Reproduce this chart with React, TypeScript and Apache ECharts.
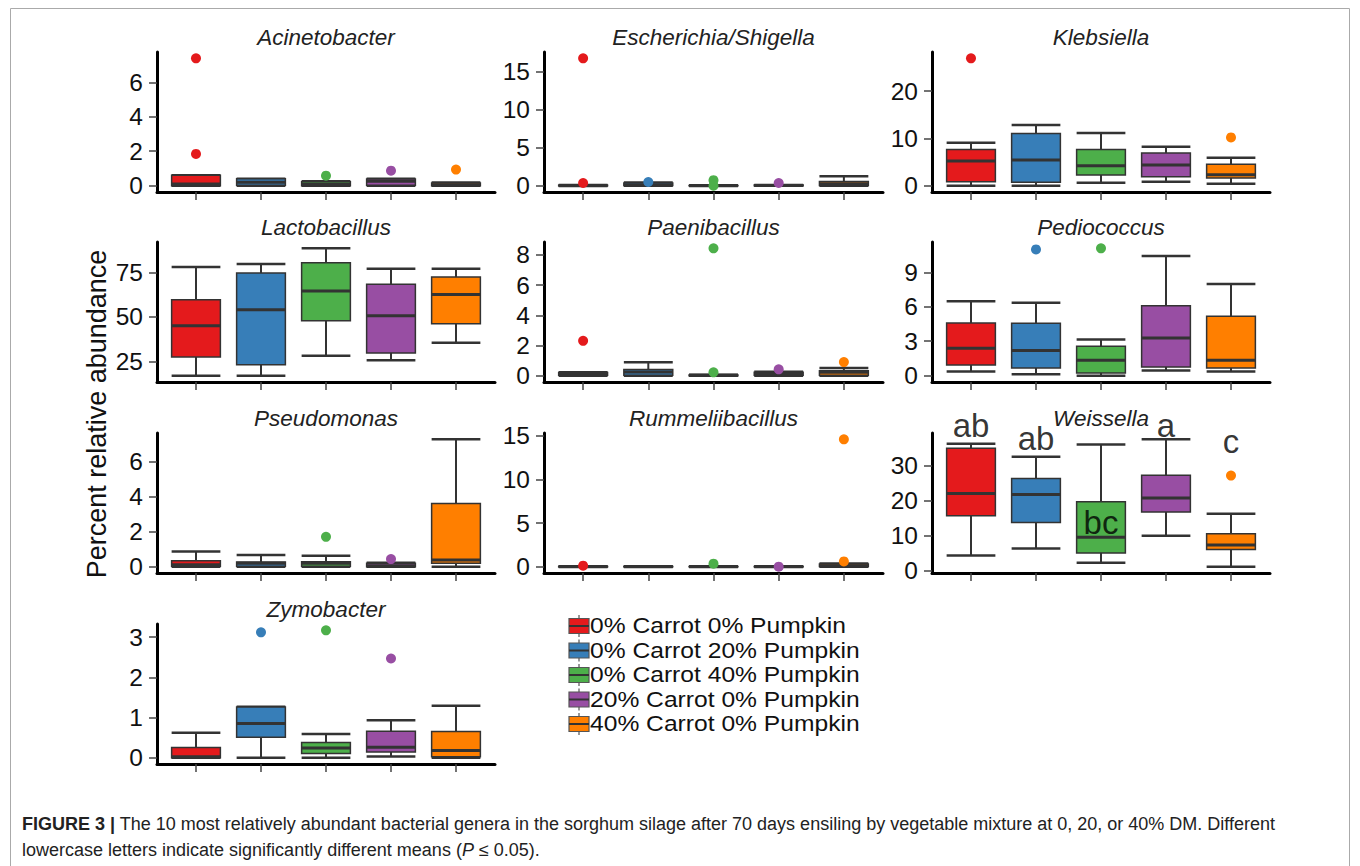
import React, { useEffect, useRef } from 'react';
import * as echarts from 'echarts';

const GROUPS = [
  '0% Carrot 0% Pumpkin',
  '0% Carrot 20% Pumpkin',
  '0% Carrot 40% Pumpkin',
  '20% Carrot 0% Pumpkin',
  '40% Carrot 0% Pumpkin',
];
const COLORS = ['#E41A1C', '#377EB8', '#4DAF4A', '#984EA3', '#FF7F00'];

// Boxes: [min, q1, median, q3, max] for each group in GROUPS order
const acinetobacterBoxes = [[0, 0, 0.1, 0.6, 0.6], [0, 0.02, 0.2, 0.4, 0.4], [0, 0, 0.08, 0.22, 0.25], [0, 0.02, 0.25, 0.38, 0.4], [0, 0, 0.05, 0.15, 0.18]];
const acinetobacterOutliers = [[0, 7.39], [0, 1.84], [2, 0.58], [3, 0.87], [4, 0.93]];
const acinetobacterTicks = [0, 2, 4, 6];

const escherichiaBoxes = [[0, 0, 0, 0.05, 0.1], [0, 0.02, 0.1, 0.35, 0.4], [0, 0, 0, 0.02, 0.05], [0, 0, 0.02, 0.08, 0.1], [0, 0.02, 0.26, 0.55, 1.23]];
const escherichiaOutliers = [[0, 16.75], [0, 0.35], [1, 0.48], [2, 0.72], [2, 0.0], [3, 0.35]];
const escherichiaTicks = [0, 5, 10, 15];

const klebsiellaBoxes = [[0, 0.84, 5.19, 7.65, 9.05], [0, 0.7, 5.4, 11.0, 12.8], [0.63, 2.25, 4.2, 7.65, 11.1], [0.84, 1.9, 4.35, 6.9, 8.2], [0.42, 1.6, 2.3, 4.5, 5.9]];
const klebsiellaOutliers = [[0, 26.9], [4, 10.2]];
const klebsiellaTicks = [0, 10, 20];

const lactobacillusBoxes = [[17.0, 27.4, 45.0, 59.7, 78.0], [17.0, 23.1, 54.0, 74.6, 79.7], [28.2, 47.8, 64.5, 80.4, 88.5], [25.7, 29.7, 50.7, 68.4, 77.1], [35.5, 46.2, 62.6, 72.4, 77.1]];
const lactobacillusOutliers: number[][] = [];
const lactobacillusTicks = [25, 50, 75];

const paenibacillusBoxes = [[0, 0.02, 0.08, 0.2, 0.22], [0, 0.02, 0.24, 0.4, 0.88], [0, 0, 0.02, 0.05, 0.06], [0, 0.02, 0.1, 0.22, 0.26], [0, 0.02, 0.22, 0.33, 0.51]];
const paenibacillusOutliers = [[0, 2.31], [2, 8.44], [2, 0.22], [3, 0.42], [4, 0.9]];
const paenibacillusTicks = [0, 2, 4, 6, 8];

const pediococcusBoxes = [[0.35, 0.93, 2.38, 4.59, 6.48], [0.12, 0.67, 2.18, 4.56, 6.34], [0.0, 0.23, 1.34, 2.56, 3.14], [0.44, 0.76, 3.28, 6.08, 10.41], [0.35, 0.67, 1.34, 5.17, 7.97]];
const pediococcusOutliers = [[1, 10.99], [2, 11.08]];
const pediococcusTicks = [0, 3, 6, 9];

const pseudomonasBoxes = [[0, 0.02, 0.11, 0.34, 0.87], [0, 0.02, 0.2, 0.26, 0.66], [0, 0.02, 0.2, 0.28, 0.62], [0, 0, 0.05, 0.2, 0.22], [0, 0.19, 0.38, 3.6, 7.26]];
const pseudomonasOutliers = [[2, 1.7], [3, 0.43]];
const pseudomonasTicks = [0, 2, 4, 6];

const rummeliibacillusBoxes = [[0, 0, 0, 0.02, 0.03], [0, 0, 0, 0.02, 0.03], [0, 0, 0, 0.02, 0.03], [0, 0, 0, 0.02, 0.03], [0, 0.02, 0.1, 0.3, 0.35]];
const rummeliibacillusOutliers = [[0, 0.11], [2, 0.34], [3, 0.0], [4, 14.6], [4, 0.6]];
const rummeliibacillusTicks = [0, 5, 10, 15];

const weissellaBoxes = [[4.25, 15.6, 22.0, 34.9, 36.2], [6.3, 13.7, 21.7, 26.3, 32.5], [2.2, 5.0, 9.5, 19.6, 36.0], [9.9, 16.7, 20.7, 27.2, 37.45], [1.1, 6.0, 7.3, 10.5, 16.2]];
const weissellaOutliers = [[4, 27.1]];
const weissellaTicks = [0, 10, 20, 30];
const weissellaLetters = ['ab', 'ab', 'bc', 'a', 'c'];
const weissellaLetterY = [41.5, 37.8, 13.8, 41.5, 36.7];

const zymobacterBoxes = [[0, 0, 0.02, 0.25, 0.62], [0, 0.51, 0.85, 1.26, 1.27], [0, 0.1, 0.24, 0.38, 0.59], [0.03, 0.14, 0.26, 0.66, 0.93], [0, 0.02, 0.18, 0.65, 1.29]];
const zymobacterOutliers = [[1, 3.12], [2, 3.17], [3, 2.47]];
const zymobacterTicks = [0, 1, 2, 3];

const PANELS = [
  { name: 'Acinetobacter', boxes: acinetobacterBoxes, outliers: acinetobacterOutliers, ticks: acinetobacterTicks },
  { name: 'Escherichia/Shigella', boxes: escherichiaBoxes, outliers: escherichiaOutliers, ticks: escherichiaTicks },
  { name: 'Klebsiella', boxes: klebsiellaBoxes, outliers: klebsiellaOutliers, ticks: klebsiellaTicks },
  { name: 'Lactobacillus', boxes: lactobacillusBoxes, outliers: lactobacillusOutliers, ticks: lactobacillusTicks },
  { name: 'Paenibacillus', boxes: paenibacillusBoxes, outliers: paenibacillusOutliers, ticks: paenibacillusTicks },
  { name: 'Pediococcus', boxes: pediococcusBoxes, outliers: pediococcusOutliers, ticks: pediococcusTicks },
  { name: 'Pseudomonas', boxes: pseudomonasBoxes, outliers: pseudomonasOutliers, ticks: pseudomonasTicks },
  { name: 'Rummeliibacillus', boxes: rummeliibacillusBoxes, outliers: rummeliibacillusOutliers, ticks: rummeliibacillusTicks },
  { name: 'Weissella', boxes: weissellaBoxes, outliers: weissellaOutliers, ticks: weissellaTicks },
  { name: 'Zymobacter', boxes: zymobacterBoxes, outliers: zymobacterOutliers, ticks: zymobacterTicks },
];

const CAPTION_1 = 'The 10 most relatively abundant bacterial genera in the sorghum silage after 70 days ensiling by vegetable mixture at 0, 20, or 40% DM. Different';
const CAPTION_2 = 'lowercase letters indicate significantly different means (';

// layout
const COL_LEFT = [157, 544, 932];
const COL_WIDTH = [338, 339, 338];
const ROW_TOP = [52, 242, 433, 624];
const ROW_H = 140;
const FONT = '"Liberation Sans", Arial, Helvetica, sans-serif';

function yRange(p: any) {
  const vals: number[] = [];
  p.boxes.forEach((b: number[]) => vals.push(...b));
  p.outliers.forEach((o: number[]) => vals.push(o[1]));
  const lo = Math.min(...vals);
  const hi = Math.max(...vals);
  const pad = (hi - lo) * 0.05;
  return [lo - pad, hi + pad];
}

export default function App() {
  const ref = useRef<HTMLDivElement>(null);
  useEffect(() => {
    const chart = echarts.init(ref.current!, undefined, { renderer: 'svg' });
    const grids: any[] = [];
    const xAxes: any[] = [];
    const yAxes: any[] = [];
    const series: any[] = [];
    const graphics: any[] = [];

    PANELS.forEach((p, i) => {
      const col = i % 3;
      const row = Math.floor(i / 3);
      const left = COL_LEFT[col];
      const width = COL_WIDTH[col];
      const top = ROW_TOP[row];
      grids.push({ left, top, width, height: ROW_H });
      xAxes.push({
        type: 'value', gridIndex: i, min: 0.4, max: 5.6,
        axisLine: { show: true, onZero: false, lineStyle: { color: '#000', width: 3 } },
        axisTick: { show: true, customValues: [1, 2, 3, 4, 5], length: 8, lineStyle: { color: '#444', width: 1.5 } },
        axisLabel: { show: false },
        splitLine: { show: false },
      });
      const [mn, mx] = yRange(p);
      yAxes.push({
        type: 'value', gridIndex: i, min: mn, max: mx,
        axisLine: { show: true, onZero: false, lineStyle: { color: '#000', width: 3 } },
        axisTick: { show: true, customValues: p.ticks, length: 8, lineStyle: { color: '#444', width: 1.5 } },
        axisLabel: { show: true, customValues: p.ticks, fontSize: 24.5, color: '#111', margin: 14, fontFamily: FONT },
        splitLine: { show: false },
      });
      series.push({
        type: 'custom', xAxisIndex: i, yAxisIndex: i,
        encode: { x: 0, y: [1, 2, 3, 4, 5] },
        data: p.boxes.map((b: number[], g: number) => [g + 1, ...b]),
        renderItem: (params: any, api: any) => {
          const g = api.value(0);
          const lo = api.coord([g, api.value(1)]);
          const q1 = api.coord([g, api.value(2)]);
          const md = api.coord([g, api.value(3)]);
          const q3 = api.coord([g, api.value(4)]);
          const hi = api.coord([g, api.value(5)]);
          const w = api.size([0.75, 0])[0];
          const cx = lo[0];
          const x0 = cx - w / 2;
          const stroke = '#333';
          return {
            type: 'group',
            children: [
              { type: 'line', shape: { x1: cx, y1: hi[1], x2: cx, y2: q3[1] }, style: { stroke, lineWidth: 2 } },
              { type: 'line', shape: { x1: cx, y1: q1[1], x2: cx, y2: lo[1] }, style: { stroke, lineWidth: 2 } },
              { type: 'line', shape: { x1: x0, y1: hi[1], x2: x0 + w, y2: hi[1] }, style: { stroke, lineWidth: 2.5 } },
              { type: 'line', shape: { x1: x0, y1: lo[1], x2: x0 + w, y2: lo[1] }, style: { stroke, lineWidth: 2.5 } },
              { type: 'rect', shape: { x: x0, y: q3[1], width: w, height: Math.max(q1[1] - q3[1], 0) }, style: { fill: COLORS[g - 1], stroke, lineWidth: 1.5 } },
              { type: 'line', shape: { x1: x0, y1: md[1], x2: x0 + w, y2: md[1] }, style: { stroke, lineWidth: 3 } },
            ],
          };
        },
        z: 2,
      });
      if (p.outliers.length) {
        series.push({
          type: 'scatter', xAxisIndex: i, yAxisIndex: i, symbolSize: 10, z: 3,
          data: p.outliers.map((o: number[]) => ({ value: [o[0] + 1, o[1]], itemStyle: { color: COLORS[o[0]], opacity: 1 } })),
        });
      }
      graphics.push({
        type: 'text', x: left + width / 2, y: top - 15,
        style: { text: p.name, fontSize: 22.5, fontStyle: 'italic', fontFamily: FONT, fill: '#222', textAlign: 'center', textVerticalAlign: 'middle' },
      });
    });

    // Weissella letters
    series.push({
      type: 'scatter', xAxisIndex: 8, yAxisIndex: 8, symbolSize: 1, clip: false, z: 4,
      itemStyle: { color: 'rgba(0,0,0,0)' },
      data: weissellaLetters.map((l, g) => [g + 1, weissellaLetterY[g]]),
      label: {
        show: true, position: 'inside', fontSize: 33, color: '#000', fontFamily: FONT, textBorderWidth: 0,
        formatter: (prm: any) => weissellaLetters[prm.dataIndex],
      },
    });

    // frame
    graphics.push({ type: 'rect', shape: { x: 10.5, y: 8.5, width: 1339, height: 900 }, style: { fill: 'none', stroke: '#aaa', lineWidth: 1 }, z: -10 });
    // y title
    graphics.push({
      type: 'text', x: 97, y: 414, rotation: Math.PI / 2,
      style: { text: 'Percent relative abundance', fontSize: 27, fontFamily: FONT, fill: '#111', textAlign: 'center', textVerticalAlign: 'middle' },
    });
    // legend
    GROUPS.forEach((gname, i) => {
      const cy = 626 + i * 24.5;
      graphics.push({ type: 'line', shape: { x1: 579, y1: cy - 11, x2: 579, y2: cy + 11 }, style: { stroke: '#555', lineWidth: 1.2 } });
      graphics.push({ type: 'rect', shape: { x: 569, y: cy - 7.5, width: 20, height: 15 }, style: { fill: COLORS[i], stroke: '#555', lineWidth: 1.2 } });
      graphics.push({ type: 'line', shape: { x1: 569, y1: cy, x2: 589, y2: cy }, style: { stroke: '#333', lineWidth: 2 } });
      graphics.push({
        type: 'text', x: 590, y: cy, scaleX: 1.13,
        style: { text: gname, fontSize: 21.8, lineHeight: 21.8, fontFamily: FONT, fill: '#111', textAlign: 'left', textVerticalAlign: 'middle' },
      });
    });
    // caption
    graphics.push({
      type: 'text', x: 22, y: 824,
      style: {
        text: '{b|FIGURE 3 |} ' + CAPTION_1,
        fontSize: 18, fontFamily: FONT, fill: '#222', textVerticalAlign: 'middle',
        rich: { b: { fontWeight: 'bold', fontSize: 18, fontFamily: FONT, fill: '#222' } },
      },
    });
    graphics.push({
      type: 'text', x: 22, y: 850,
      style: {
        text: CAPTION_2 + '{i|P} \u2264 0.05).',
        fontSize: 18, fontFamily: FONT, fill: '#222', textVerticalAlign: 'middle',
        rich: { i: { fontStyle: 'italic', fontSize: 18, fontFamily: FONT, fill: '#222' } },
      },
    });

    chart.setOption({
      animation: false,
      backgroundColor: '#fff',
      grid: grids,
      xAxis: xAxes,
      yAxis: yAxes,
      series,
      graphic: { elements: graphics },
    });
    return () => chart.dispose();
  }, []);
  return <div ref={ref} style={{ position: 'fixed', left: 0, top: 0, width: 1360, height: 866 }} />;
}
